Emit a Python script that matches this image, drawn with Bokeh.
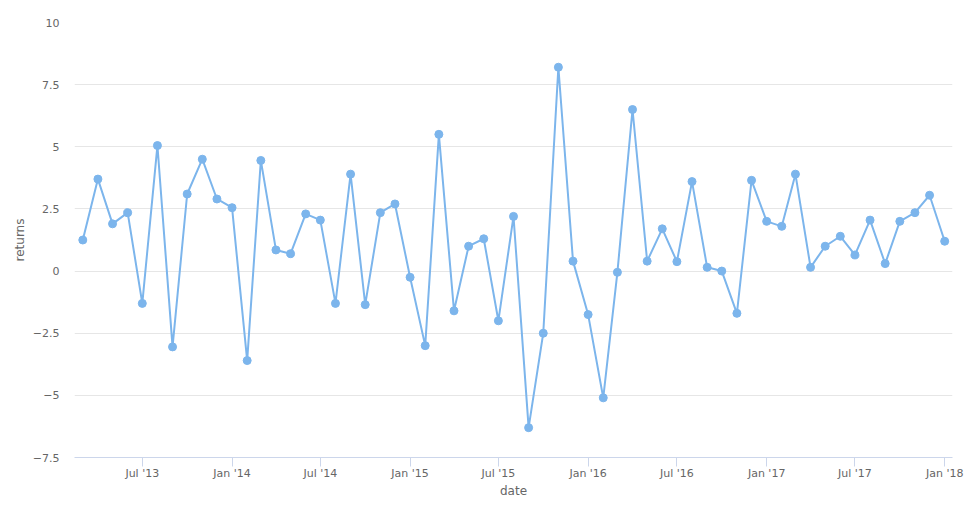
from datetime import datetime
from bokeh.plotting import figure
from bokeh.models import ColumnDataSource, FixedTicker, DatetimeTickFormatter, CustomJSTickFormatter, Range1d
from bokeh.embed import file_html
from bokeh.resources import INLINE

start_year, start_month = 2013, 3
returns = [1.25, 3.7, 1.9, 2.35, -1.3, 5.05, -3.05, 3.1, 4.5, 2.9,
           2.55, -3.6, 4.45, 0.85, 0.7, 2.3, 2.05, -1.3, 3.9, -1.35,
           2.35, 2.7, -0.25, -3.0, 5.5, -1.6, 1.0, 1.3, -2.0, 2.2,
           -6.3, -2.5, 8.2, 0.4, -1.75, -5.1, -0.05, 6.5, 0.4, 1.7,
           0.38, 3.6, 0.15, 0.0, -1.7, 3.65, 2.0, 1.8, 3.9, 0.15,
           1.0, 1.4, 0.65, 2.05, 0.3, 2.0, 2.35, 3.05, 1.2]

dates = []
y, m = start_year, start_month
for _ in returns:
    dates.append(datetime(y, m, 1))
    m += 1
    if m > 12:
        m = 1
        y += 1

tick_dates = [datetime(2013, 7, 1), datetime(2014, 1, 1), datetime(2014, 7, 1),
              datetime(2015, 1, 1), datetime(2015, 7, 1), datetime(2016, 1, 1),
              datetime(2016, 7, 1), datetime(2017, 1, 1), datetime(2017, 7, 1),
              datetime(2018, 1, 1)]
y_ticks = [-7.5, -5, -2.5, 0, 2.5, 5, 7.5, 10]

def ms(d):
    return (d - datetime(1970, 1, 1)).total_seconds() * 1000.0

src = ColumnDataSource(dict(date=dates, ret=returns))

FONT = "DejaVu Sans"
p = figure(width=968, height=515, x_axis_type="datetime",
           output_backend="svg", toolbar_location=None,
           x_range=Range1d(ms(datetime(2013, 2, 12)), ms(datetime(2018, 1, 17))),
           y_range=Range1d(-7.5, 10),
           min_border_left=74, min_border_right=16, min_border_top=22, min_border_bottom=58)
p.outline_line_color = None
p.background_fill_color = "white"

p.line("date", "ret", source=src, line_color="#7cb5ec", line_width=2)
p.scatter("date", "ret", source=src, size=8, fill_color="#7cb5ec", line_color="#7cb5ec")

p.xgrid.grid_line_color = None
p.ygrid.grid_line_color = "#e6e6e6"
p.ygrid.grid_line_width = 1

xa = p.xaxis[0]
xa.ticker = FixedTicker(ticks=[ms(d) for d in tick_dates])
fmt = "%b '%y"
xa.formatter = DatetimeTickFormatter(days=fmt, months=fmt, years=fmt, hours=fmt,
                                     minutes=fmt, seconds=fmt, milliseconds=fmt,
                                     microseconds=fmt, minsec=fmt, hourmin=fmt)
xa.axis_line_color = "#ccd6eb"
xa.major_tick_line_color = "#ccd6eb"
xa.major_tick_out = 9
xa.major_tick_in = 0
xa.minor_tick_line_color = None
xa.major_label_text_font = FONT
xa.major_label_text_font_size = "11px"
xa.major_label_text_color = "#666666"
xa.major_label_standoff = 0
xa.axis_label = "date"
xa.axis_label_text_font = FONT
xa.axis_label_text_font_size = "12px"
xa.axis_label_text_font_style = "normal"
xa.axis_label_text_color = "#666666"
xa.axis_label_standoff = 1

ya = p.yaxis[0]
ya.ticker = FixedTicker(ticks=y_ticks)
ya.formatter = CustomJSTickFormatter(code="return tick.toString().replace('-', '\u2212');")
ya.axis_line_color = None
ya.major_tick_line_color = None
ya.major_tick_out = 0
ya.major_tick_in = 0
ya.minor_tick_line_color = None
ya.major_label_text_font = FONT
ya.major_label_text_font_size = "11px"
ya.major_label_text_color = "#666666"
ya.major_label_standoff = 15
ya.axis_label = "returns"
ya.axis_label_text_font = FONT
ya.axis_label_text_font_size = "12px"
ya.axis_label_text_font_style = "normal"
ya.axis_label_text_color = "#666666"
ya.axis_label_standoff = 3

open("out.html", "w").write(file_html(p, INLINE))
